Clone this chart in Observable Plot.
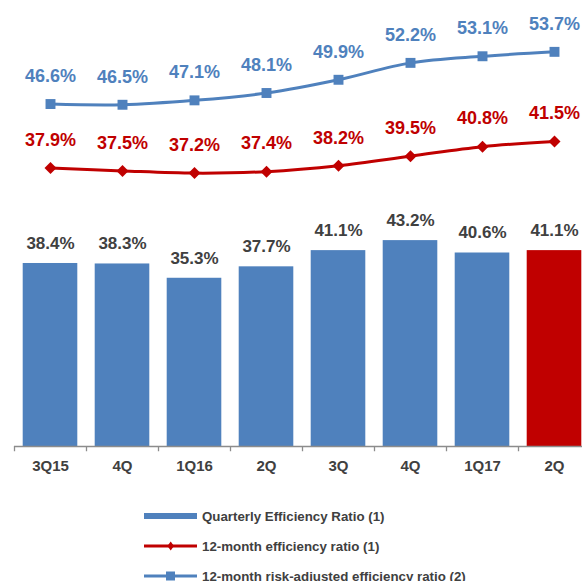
<!DOCTYPE html>
<html><head><meta charset="utf-8">
<script src="https://cdn.jsdelivr.net/npm/d3@7"></script>
<script src="https://cdn.jsdelivr.net/npm/@observablehq/plot@0.6"></script>
<style>
html,body{margin:0;padding:0;background:#fff;overflow:hidden}
#wrap{position:relative;width:582px;height:581px;overflow:hidden;font-family:"Liberation Sans",Arial,sans-serif}
#chart{position:absolute;left:0;top:0;width:590px}
#chart svg{max-width:none !important;display:block}
.item{position:absolute;left:144px;height:20px;display:flex;align-items:center;font-weight:bold;font-size:13.3px;color:#404040;white-space:nowrap}
.item svg{margin-right:5px;flex:none}
</style></head><body>
<div id="wrap"><div id="chart"></div><div id="legend"></div></div>
<script>
const quarters = ["3Q15","4Q15","1Q16","2Q16","3Q16","4Q16","1Q17","2Q17"];
const tickLabels = ["3Q15","4Q","1Q16","2Q","3Q","4Q","1Q17","2Q"];
const quarterlyRatio = [38.4,38.3,35.3,37.7,41.1,43.2,40.6,41.1];
const efficiency12m = [37.9,37.5,37.2,37.4,38.2,39.5,40.8,41.5];
const riskAdjusted12m = [46.6,46.5,47.1,48.1,49.9,52.2,53.1,53.7];
const seriesNames = ["Quarterly Efficiency Ratio (1)","12-month efficiency ratio (1)","12-month risk-adjusted efficiency ratio (2)"];

const BLUE = "#4F81BD", RED = "#C00000", GRAY = "#404040", AXIS = "#8C8C8C";
const lineK = 1.542; // secondary axis ratio for the two lines
const rows = quarters.map((q,i)=>({q, v:quarterlyRatio[i], e:efficiency12m[i], r:riskAdjusted12m[i], last:i===quarters.length-1}));
const pct = v => v.toFixed(1)+"%";

const chart = Plot.plot({
  width: 590, height: 480,
  marginLeft: 14, marginRight: 0, marginTop: 0, marginBottom: 34,
  style: {fontFamily: "'Liberation Sans', Arial, sans-serif", color: GRAY, background: "#fff", maxWidth: "none"},
  x: {domain: quarters, padding: 0, label: null, axis: null},
  y: {domain: [0, 93.58], axis: null},
  marks: [
    Plot.barY(rows, {x:"q", y:"v", fill: d=>d.last?RED:BLUE, insetLeft:8.7, insetRight:8.7}),
    Plot.ruleY([0], {stroke: AXIS, strokeWidth: 1.3}),
    Plot.ruleX(quarters, {x: d=>d, dx: -36, y1: 0, y2: -1.1, stroke: AXIS, strokeWidth: 1.3}),
    Plot.axisX({tickSize: 0, tickPadding: 14, tickFormat: d=>tickLabels[quarters.indexOf(d)], fontSize: 15, fontWeight: "bold", fill: GRAY, label: null}),
    Plot.text(rows, {x:"q", y:"v", text: d=>pct(d.v), dy:-20, fill: GRAY, fontSize: 17, fontWeight:"bold"}),
    Plot.line(rows, {x:"q", y: d=>d.e*lineK, stroke: RED, strokeWidth: 3, curve: "catmull-rom"}),
    Plot.dot(rows, {x:"q", y: d=>d.e*lineK, symbol: "diamond2", r: 5.4, fill: RED, stroke: "none"}),
    Plot.text(rows, {x:"q", y: d=>d.e*lineK, text: d=>pct(d.e), dy:-28, fill: RED, fontSize: 18, fontWeight:"bold"}),
    Plot.line(rows, {x:"q", y: d=>d.r*lineK, stroke: BLUE, strokeWidth: 3, curve: "catmull-rom"}),
    Plot.dot(rows, {x:"q", y: d=>d.r*lineK, symbol: "square", r: 5.6, fill: BLUE, stroke: "none"}),
    Plot.text(rows, {x:"q", y: d=>d.r*lineK, text: d=>pct(d.r), dy:-28, fill: BLUE, fontSize: 18, fontWeight:"bold"})
  ]
});
document.getElementById("chart").appendChild(chart);

const swatches = [
  `<svg width="53" height="20"><rect x="0" y="7" width="53" height="6" fill="${BLUE}"/></svg>`,
  `<svg width="53" height="20"><line x1="0" x2="53" y1="10" y2="10" stroke="${RED}" stroke-width="3"/><path d="M26.7,5.6L30,10L26.7,14.4L23.4,10Z" fill="${RED}"/></svg>`,
  `<svg width="53" height="20"><line x1="0" x2="53" y1="10" y2="10" stroke="${BLUE}" stroke-width="3"/><rect x="22" y="5.5" width="9" height="9" fill="${BLUE}"/></svg>`
];
const centers = [516, 546, 576];
const legend = document.getElementById("legend");
seriesNames.forEach((name,i)=>{
  const div = document.createElement("div");
  div.className = "item";
  div.style.top = (centers[i]-10)+"px";
  div.innerHTML = swatches[i] + `<span>${name}</span>`;
  legend.appendChild(div);
});
</script>
</body></html>
